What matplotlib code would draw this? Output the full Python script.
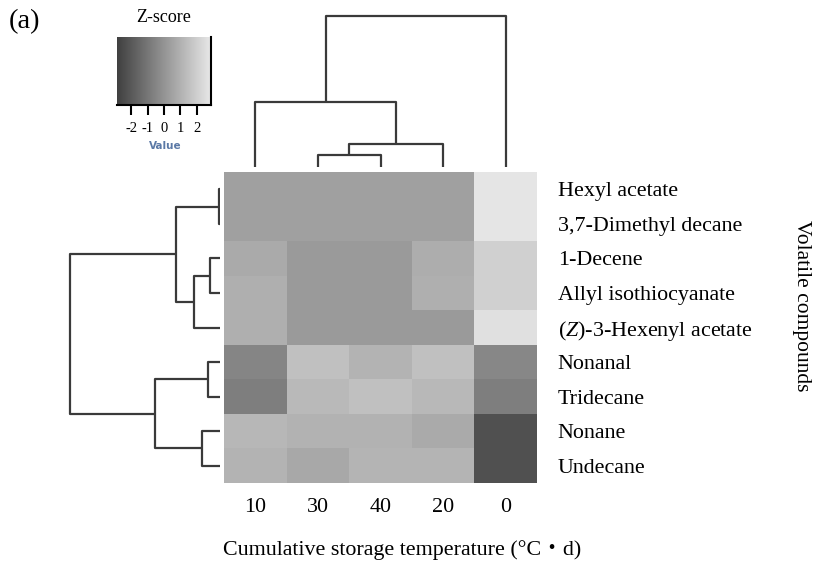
import numpy as np
import matplotlib
matplotlib.use("Agg")
import matplotlib.pyplot as plt
from matplotlib.colors import LinearSegmentedColormap

plt.rcParams['font.family'] = ['Liberation Serif', 'Noto Sans CJK JP', 'DejaVu Sans']
plt.rcParams['mathtext.fontset'] = 'custom'
plt.rcParams['mathtext.rm'] = 'Liberation Serif'
plt.rcParams['mathtext.it'] = 'Liberation Serif:italic'

# ---- data ----
columns = ["10", "30", "40", "20", "0"]
compounds = ["Hexyl acetate", "3,7-Dimethyl decane", "1-Decene",
             "Allyl isothiocyanate", r"($\mathit{Z}$)-3-Hexenyl acetate",
             "Nonanal", "Tridecane", "Nonane", "Undecane"]
zscores = np.array([
    [0.41, 0.41, 0.41, 0.41, 2.75],
    [0.41, 0.41, 0.41, 0.41, 2.75],
    [0.75, 0.20, 0.20, 0.85, 2.04],
    [0.92, 0.20, 0.20, 0.92, 2.04],
    [0.92, 0.20, 0.20, 0.20, 2.58],
    [-0.51, 1.49, 1.05, 1.49, -0.44],
    [-0.75, 1.26, 1.49, 1.22, -0.75],
    [1.19, 1.02, 1.02, 0.75, -2.31],
    [1.05, 0.68, 1.09, 1.09, -2.31],
])
# linkage: (child_a, child_b, height); leaves are 0..n-1 in display order
row_linkage = [(0, 1, 1), (2, 3, 10), (10, 4, 26), (9, 11, 44),
               (5, 6, 12), (7, 8, 18), (13, 14, 65), (12, 15, 150)]
col_linkage = [(1, 2, 12), (5, 3, 23), (0, 6, 65), (7, 4, 151)]
key_ticks = [-2, -1, 0, 1, 2]
key_range = (-2.85, 2.85)

W, H = 814, 577
fig = plt.figure(figsize=(W / 100, H / 100), dpi=100)

def px_axes(x0, y0, x1, y1):
    return fig.add_axes([x0 / W, 1 - y1 / H, (x1 - x0) / W, (y1 - y0) / H])

cmap = LinearSegmentedColormap.from_list("g", [(0.25, 0.25, 0.25), (0.91, 0.91, 0.91)])

# ---- heatmap ----
ax = px_axes(224, 172, 537, 483)
ax.pcolormesh(zscores, cmap=cmap, vmin=key_range[0], vmax=key_range[1])
ax.set_xlim(0, len(columns))
ax.set_ylim(len(compounds), 0)
for s in ax.spines.values():
    s.set_visible(False)
ax.set_xticks(np.arange(len(columns)) + 0.5)
ax.set_xticklabels(columns, fontsize=15.8)
ax.tick_params(axis='x', length=0, pad=11)
ax.yaxis.tick_right()
ax.set_yticks(np.arange(len(compounds)) + 0.5)
ax.set_yticklabels(compounds, fontsize=15.8)
ax.tick_params(axis='y', length=0, pad=15)

def dendro_segments(linkage, n):
    pos = {i: i + 0.5 for i in range(n)}
    hgt = {i: 0.0 for i in range(n)}
    segs = []
    for k, (a, b, h) in enumerate(linkage):
        node = n + k
        segs.append(([pos[a], pos[a], pos[b], pos[b]], [hgt[a], h, h, hgt[b]]))
        pos[node] = (pos[a] + pos[b]) / 2
        hgt[node] = h
    return segs

lc = '#3a3a3a'
# ---- top (column) dendrogram ----
axt = px_axes(224, 10, 537, 167)
for xs, hs in dendro_segments(col_linkage, len(columns)):
    axt.plot(xs, hs, color=lc, lw=1.6, solid_capstyle='butt')
axt.set_xlim(0, len(columns))
axt.set_ylim(0, 157)
axt.axis('off')

# ---- left (row) dendrogram ----
axl = px_axes(60, 172, 220, 483)
for ys, hs in dendro_segments(row_linkage, len(compounds)):
    axl.plot(hs, ys, color=lc, lw=1.6, solid_capstyle='butt')
axl.set_xlim(160, 0)
axl.set_ylim(len(compounds), 0)
axl.axis('off')

# ---- colour key ----
axk = px_axes(117, 37, 211, 105)
grad = np.linspace(key_range[0], key_range[1], 256)[None, :]
axk.imshow(grad, cmap=cmap, vmin=key_range[0], vmax=key_range[1], aspect='auto',
           extent=(key_range[0], key_range[1], 0, 1))
axk.set_xlim(*key_range)
axk.set_ylim(0, 1)
axk.set_yticks([])
axk.set_xticks(key_ticks)
axk.set_xticklabels([str(t) for t in key_ticks], fontsize=10.5)
axk.tick_params(axis='x', direction='out', length=7, width=1.5, pad=5)
axk.spines['top'].set_visible(False)
axk.spines['left'].set_visible(False)
axk.spines['bottom'].set_linewidth(1.5)
axk.spines['right'].set_linewidth(1.5)

fig.text(164 / W, 1 - 18 / H, "Z-score", ha='center', va='center', fontsize=13)
fig.text(165 / W, 1 - 146 / H, "Value", ha='center', va='center', fontsize=7.5,
         color='#5b79a6', family=['DejaVu Sans'], weight='semibold')
fig.text(9 / W, 1 - 22 / H, "(a)", ha='left', va='center', fontsize=20.5)
fig.text(802 / W, 1 - 306 / H, "Volatile compounds", ha='center', va='center',
         rotation=270, fontsize=15.5)
fig.text(402 / W, 1 - 550 / H, "Cumulative storage temperature (°C・d)",
         ha='center', va='center', fontsize=15.8)

fig.savefig("out.png", dpi=100)
